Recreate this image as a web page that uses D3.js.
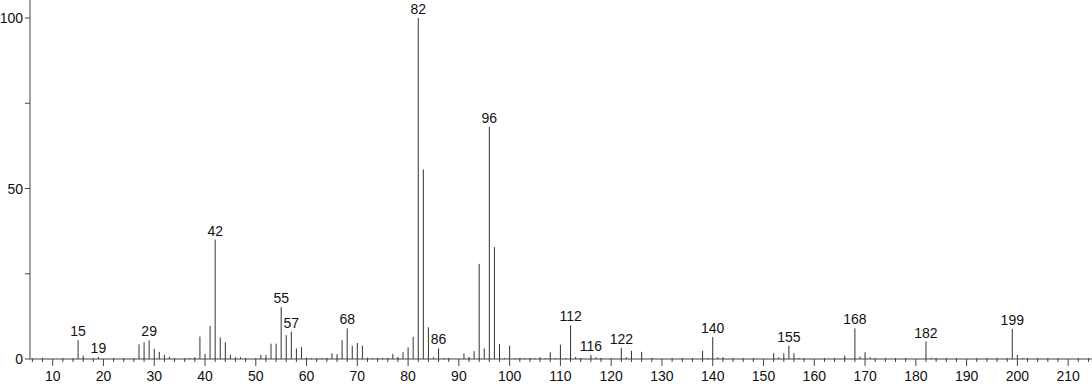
<!DOCTYPE html>
<meta charset="utf-8">
<script src="https://d3js.org/d3.v7.min.js"></script>
<style>
  body { margin: 0; background: #fff; }
  text { font-family: "Liberation Sans", Arial, sans-serif; }
</style>
<div id="spectrum"></div>
<script>
    // m/z values and relative intensities
    var mz = [15, 16, 19, 27, 28, 29, 30, 31, 32, 33, 37, 38, 39, 40, 41, 42, 43, 44, 45, 46, 47, 48, 50,
              51, 52, 53, 54, 55, 56, 57, 58, 59, 60, 61, 63, 64, 65, 66, 67, 68, 69, 70, 71,
              72, 73, 74, 75, 76, 77, 78, 79, 80, 81, 82, 83, 84, 85, 86, 87, 88, 91, 92, 93,
              94, 95, 96, 97, 98, 99, 100, 101, 102, 103, 104, 105, 106, 107, 108, 109, 110, 111,
              112, 113, 114, 116, 117, 118, 120, 122, 123, 124, 126, 128, 138, 139, 140, 141, 142,
              152, 153, 154, 155, 156, 157, 166, 168, 169, 170, 171, 182, 183, 184, 199, 200, 201];
    var intensity = [5.5, 1.0, 0.6, 4.3, 4.9, 5.5, 3.0, 2.1, 1.2, 0.6, 0.3, 0.5, 6.6, 1.5, 9.7, 35, 6.3, 4.9, 1.3, 0.5, 0.5, 0.3, 0.3,
              1.2, 1.2, 4.5, 4.5, 15.2, 7.0, 8.0, 3.1, 3.5, 0.4, 0.3, 0.3, 0.3, 1.7, 1.4, 5.5, 9.0, 3.9, 4.7, 3.9,
              0.4, 0.3, 0.3, 0.3, 0.3, 1.5, 0.6, 2.0, 3.4, 6.5, 100, 55.6, 9.3, 0.5, 3.1, 0.3, 0.3, 1.6, 0.6, 2.3,
              27.9, 3.1, 68.1, 32.8, 4.4, 0.3, 3.9, 0.3, 0.3, 0.3, 0.3, 0.3, 0.5, 0.3, 2.0, 0.3, 4.2, 0.3,
              9.9, 0.6, 0.3, 1.2, 0.5, 0.3, 0.3, 3.2, 0.5, 2.4, 2.1, 0.3, 2.4, 0.3, 6.4, 0.5, 0.5,
              1.7, 0.5, 1.7, 3.9, 1.7, 0.3, 1.0, 9.0, 0.7, 2.0, 0.5, 5.1, 0.4, 0.3, 8.8, 1.2, 0.3];
    var labelled = [15, 19, 29, 42, 55, 57, 68, 82, 86, 96, 112, 116, 122, 140, 155, 168, 182, 199];
    var yTicks = [0, 25, 50, 75, 100];
    var yLabels = [0, 50, 100];

    var data = mz.map(function(m, i) { return {mz: m, v: intensity[i]}; });

    var W = 1092, H = 384;
    var margin = {top: 18, right: 0, bottom: 25, left: 30},
        width = W - margin.left - margin.right,
        height = H - margin.top - margin.bottom;

    var svg = d3.select("#spectrum")
      .append("svg")
        .attr("width", W)
        .attr("height", H);

    var x = d3.scaleLinear()
      .domain([5.53, 214.7])
      .range([margin.left, W]);
    var y = d3.scaleLinear()
      .domain([0, 100])
      .range([H - margin.bottom, margin.top]);

    // peaks
    svg.append("g").selectAll("line")
      .data(data)
      .enter()
      .append("line")
        .attr("x1", function(d) { return x(d.mz); })
        .attr("x2", function(d) { return x(d.mz); })
        .attr("y1", y(0))
        .attr("y2", function(d) { return y(d.v); })
        .attr("stroke", "#333")
        .attr("stroke-width", 1);

    // peak labels
    svg.append("g").selectAll("text")
      .data(data.filter(function(d) { return labelled.includes(d.mz); }))
      .enter()
      .append("text")
        .attr("x", function(d) { return x(d.mz); })
        .attr("y", function(d) { return y(d.v) - 4; })
        .attr("text-anchor", "middle")
        .attr("font-size", 14)
        .attr("fill", "#111")
        .text(function(d) { return d.mz; });

    // x axis: minor ticks every 2, major every 10
    var xAxis = svg.append("g").attr("transform", "translate(0," + y(0) + ")");
    xAxis.append("line")
      .attr("x1", margin.left).attr("x2", W)
      .attr("stroke", "#444");
    xAxis.selectAll(".minor")
      .data(d3.range(6, 215, 2).filter(function(v) { return v % 10 !== 0; }))
      .enter().append("line")
        .attr("x1", function(v) { return x(v); })
        .attr("x2", function(v) { return x(v); })
        .attr("y1", -1).attr("y2", 3)
        .attr("stroke", "#444");
    var major = xAxis.selectAll(".major")
      .data(d3.range(10, 211, 10))
      .enter().append("g")
        .attr("transform", function(v) { return "translate(" + x(v) + ",0)"; });
    major.append("line").attr("y1", 0).attr("y2", 7).attr("stroke", "#444");
    major.append("text")
      .attr("y", 22)
      .attr("text-anchor", "middle")
      .attr("font-size", 14)
      .attr("fill", "#111")
      .text(function(v) { return v; });

    // y axis
    var yAxis = svg.append("g").attr("transform", "translate(" + margin.left + ",0)");
    yAxis.append("line")
      .attr("y1", 0).attr("y2", y(0))
      .attr("stroke", "#444");
    yAxis.selectAll(".tick")
      .data(yTicks)
      .enter().append("line")
        .attr("x1", -5).attr("x2", 0)
        .attr("y1", function(v) { return y(v); })
        .attr("y2", function(v) { return y(v); })
        .attr("stroke", "#444");
    yAxis.selectAll(".lab")
      .data(yLabels)
      .enter().append("text")
        .attr("x", -7)
        .attr("y", function(v) { return y(v) + 5; })
        .attr("text-anchor", "end")
        .attr("font-size", 14)
        .attr("fill", "#111")
        .text(function(v) { return v; });
</script>
